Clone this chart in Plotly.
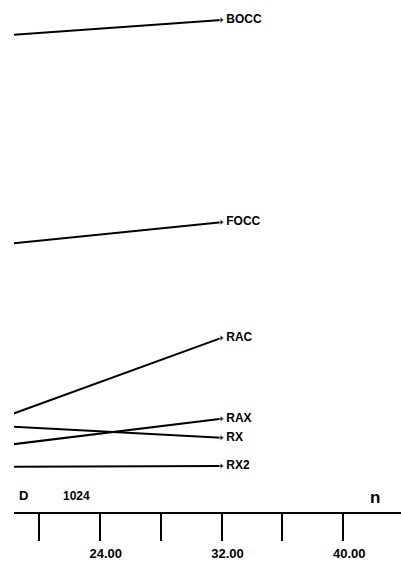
import plotly.graph_objects as go

# data
n_vals = [16, 32]
series_names = ["BOCC", "FOCC", "RAC", "RAX", "RX", "RX2"]
bocc = [92.7, 96.1]
focc = [51.8, 56.6]
rac = [16.7, 34.0]
rax = [12.4, 18.2]
rx = [17.0, 14.5]
rx2 = [8.8, 9.0]
tick_vals = [20, 24, 28, 32, 36, 40]
tick_text = ["", "24.00", "", "32.00", "", "40.00"]
d_label = "D"
d_value = "1024"
x_title = "n"

series = [bocc, focc, rac, rax, rx, rx2]
fam = "Liberation Sans, Arial"
fnt = dict(family=fam, size=12, color="black")

fig = go.Figure()
for name, ys in zip(series_names, series):
    fig.add_trace(go.Scatter(
        x=n_vals, y=ys, mode="lines+markers+text",
        line=dict(color="black", width=2),
        marker=dict(size=[0, 6], color="black", symbol="triangle-right"),
        text=["", "<b>" + name + "</b>"], textposition="middle right",
        textfont=fnt, showlegend=False, cliponaxis=False,
    ))

fig.add_annotation(x=0, xref="paper", y=0, yref="paper", yshift=7, xshift=3,
                   text="<b>" + d_label + "</b>", showarrow=False,
                   xanchor="left", yanchor="bottom", font=dict(family=fam, size=13, color="black"))
fig.add_annotation(x=22.5, xref="x", y=0, yref="paper", yshift=7,
                   text="<b>" + d_value + "</b>", showarrow=False,
                   xanchor="center", yanchor="bottom", font=dict(family=fam, size=12, color="black"))
fig.add_annotation(x=42.1, xref="x", y=0, yref="paper", yshift=3,
                   text="<b>" + x_title + "</b>", showarrow=False,
                   xanchor="center", yanchor="bottom", font=dict(family=fam, size=17, color="black"))

fig.update_layout(
    width=401, height=563,
    margin=dict(l=14, r=0, t=0, b=51, autoexpand=False),
    paper_bgcolor="white", plot_bgcolor="white",
    xaxis=dict(range=[18.36, 43.8], tickvals=tick_vals,
               ticktext=["<b>" + t + "</b>" if t else "" for t in tick_text],
               ticks="outside", ticklen=27, tickwidth=2, tickcolor="black",
               showline=True, linecolor="black", linewidth=2,
               showgrid=False, zeroline=False, automargin=False,
               tickfont=dict(family=fam, size=13, color="black"),
               ticklabelstandoff=1, ticklabelshift=6),
    yaxis=dict(range=[0, 100], visible=False, showgrid=False, automargin=False),
)
fig.write_html("out.html", config={"displayModeBar": False},
               post_script="document.body.style.margin='0';")
